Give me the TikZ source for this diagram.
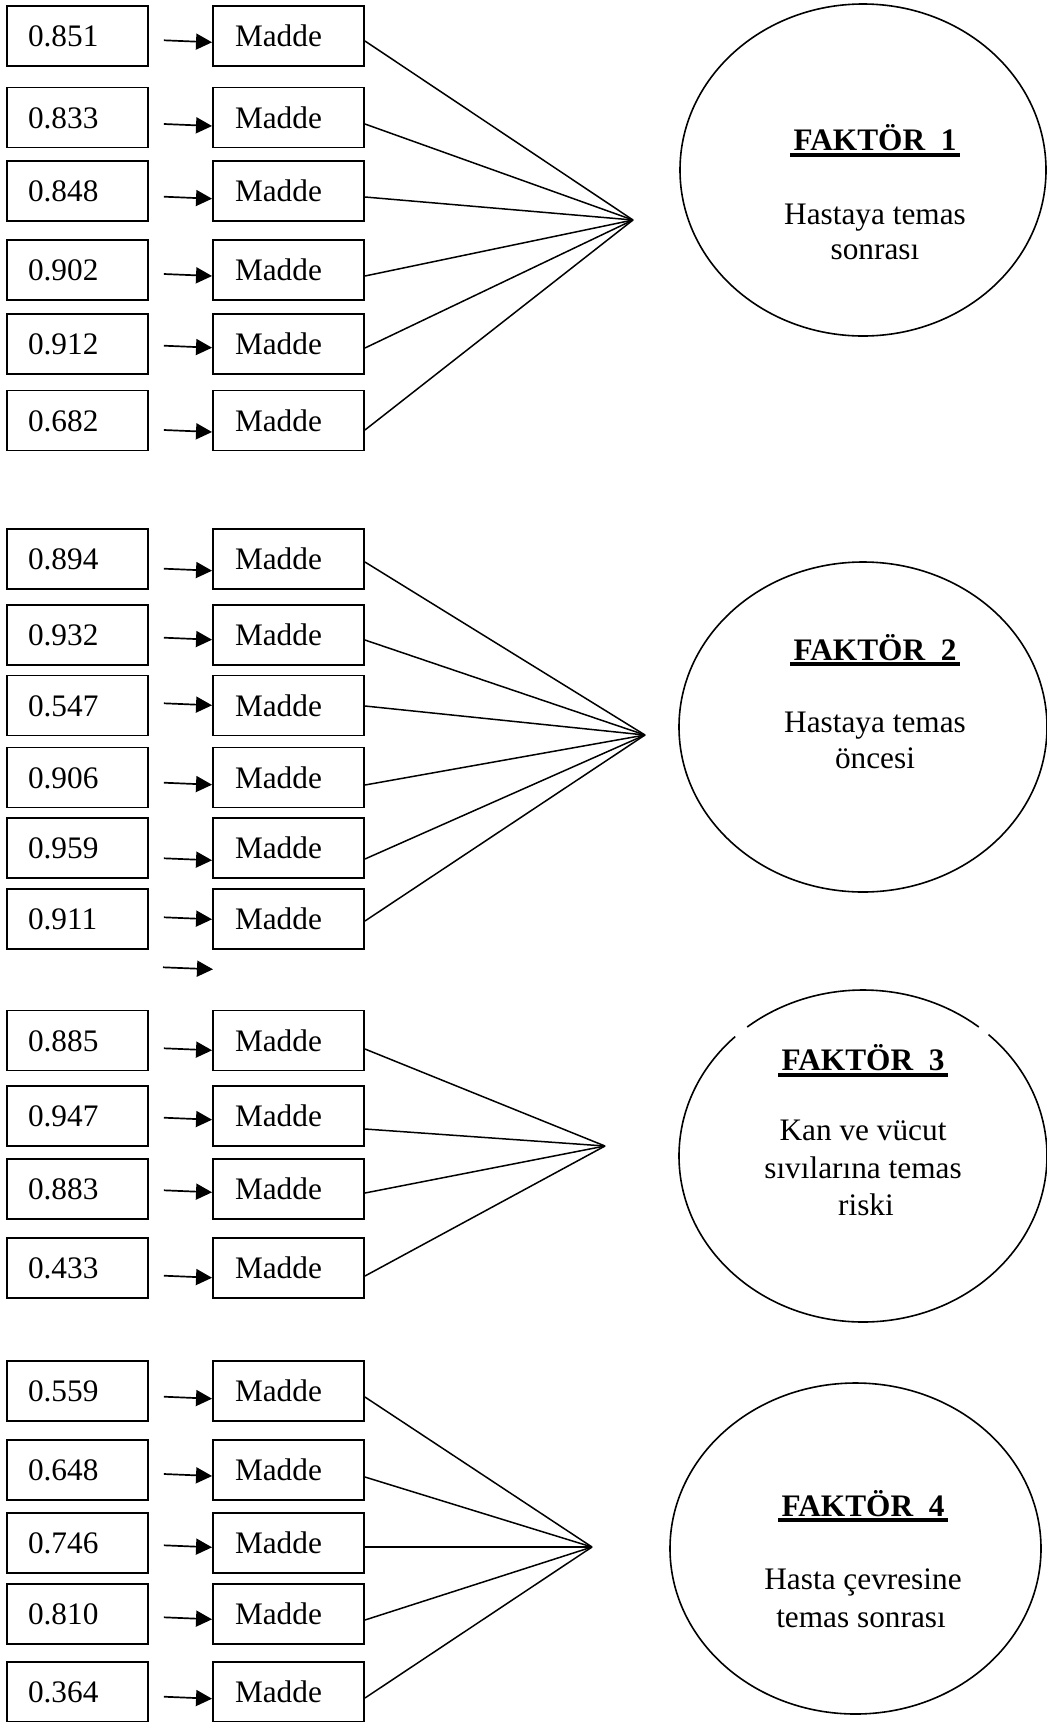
\documentclass[tikz,border=0pt]{standalone}
\usepackage{fontspec}
\setmainfont{Liberation Serif}
\usetikzlibrary{arrows.meta,calc,shapes.geometric}
\tikzset{
  every node/.style={font=\fontsize{31.3}{36}\selectfont},
  valbox/.style={draw, line width=1.9pt, rectangle, minimum height=60pt,
    inner xsep=21pt, inner ysep=0pt, text width=99pt, align=left,
    text height=21pt, text depth=0pt},
  maddebox/.style={draw, line width=1.9pt, rectangle, minimum height=60pt,
    inner xsep=22pt, inner ysep=0pt, text width=107pt, align=left,
    text height=21pt, text depth=0pt},
  arr/.style={line width=1.7pt, -{Triangle[length=16pt,width=16pt]}},
  conn/.style={line width=1.5pt},
  ell/.style={line width=1.6pt},
  factor/.style={ellipse, draw, line width=1.6pt, inner sep=0pt},
  ttl/.style={anchor=base, inner sep=0pt, font=\fontsize{31.3}{36}\selectfont\bfseries},
  etxt/.style={anchor=base, inner sep=0pt},
  uline/.style={line width=4pt}
}
\newcommand\itemrow[6]{%
  \node[valbox] (v#1) at (77.5,#2) {#3};
  \node[maddebox] (m#1) at (288.5,#2) {Madde};
  \draw[arr] ($(v#1.east)+(15,#4)$) -- ($(m#1.west)+(0,#4+2)$);
  \draw[conn] ($(m#1.east)+(0,#5)$) -- (#6);
}
\begin{document}
\begin{tikzpicture}[x=1pt,y=-1pt]
\useasboundingbox (0,0) rectangle (1047,1722);
% convergence points
\coordinate (c1) at (633,220);
\coordinate (c2) at (645,735);
\coordinate (c3) at (605,1146);
\coordinate (c4) at (592,1547);
% group 1
\itemrow{11}{36}{0.851}{4.3}{5}{c1}
\itemrow{12}{117.5}{0.833}{6.5}{6.5}{c1}
\itemrow{13}{191}{0.848}{5.7}{6}{c1}
\itemrow{14}{270}{0.902}{4}{6}{c1}
\itemrow{15}{344}{0.912}{1.7}{4}{c1}
\itemrow{16}{420.5}{0.682}{9.5}{9.5}{c1}
% group 2
\itemrow{21}{559}{0.894}{9.7}{3}{c2}
\itemrow{22}{635}{0.932}{2.7}{5}{c2}
\itemrow{23}{705.5}{0.547}{-2.2}{0.5}{c2}
\itemrow{24}{777.5}{0.906}{5.2}{7.5}{c2}
\itemrow{25}{848}{0.959}{10.3}{11}{c2}
\itemrow{26}{919}{0.911}{-1.7}{2}{c2}
\coordinate (xa) at (163,967.3);
\coordinate (xb) at (213,969.3);
\draw[arr] (xa) -- (xb);
% group 3
\itemrow{31}{1040.5}{0.885}{7.8}{8.5}{c3}
\itemrow{32}{1116}{0.947}{1.7}{13}{c3}
\itemrow{33}{1189}{0.883}{1.3}{4}{c3}
\itemrow{34}{1268}{0.433}{7.7}{8}{c3}
% group 4
\itemrow{41}{1391}{0.559}{5.7}{6}{c4}
\itemrow{42}{1470}{0.648}{4}{7}{c4}
\itemrow{43}{1543}{0.746}{2.3}{4}{c4}
\itemrow{44}{1614}{0.810}{3.3}{6}{c4}
\itemrow{45}{1692}{0.364}{4.7}{6}{c4}
% factor 1
\node[factor, minimum width=366pt, minimum height=332pt] (f1) at (863,170) {};
\node[ttl] (t1) at (875,150.7) {FAKTÖR\ \ 1};
\draw[uline] ($(t1.base west)+(-3,4)$) -- ($(t1.base east)+(3,4)$);
\node[etxt] (e1a) at (875,224) {Hastaya temas};
\node[etxt] (e1b) at (875,259) {sonrası};
% factor 2
\node[factor, minimum width=368pt, minimum height=330pt] (f2) at (863,727) {};
\node[ttl] (t2) at (875,660) {FAKTÖR\ \ 2};
\draw[uline] ($(t2.base west)+(-3,4)$) -- ($(t2.base east)+(3,4)$);
\node[etxt] (e2a) at (875,732.3) {Hastaya temas};
\node[etxt] (e2b) at (875,768.3) {öncesi};
% factor 3 (outline broken near the top)
\draw[ell] (863,1156) ++(-51:184 and 166) arc[start angle=-51, end angle=-129, x radius=184, y radius=166];
\draw[ell] (863,1156) ++(-134:184 and 166) arc[start angle=-134, end angle=-407, x radius=184, y radius=166];
\node[ttl] (t3) at (863,1070.7) {FAKTÖR\ \ 3};
\draw[uline] ($(t3.base west)+(-3,4)$) -- ($(t3.base east)+(3,4)$);
\node[etxt] (e3a) at (863,1140) {Kan ve vücut};
\node[etxt] (e3b) at (863,1178) {sıvılarına temas};
\node[etxt] (e3c) at (866,1215) {riski};
% factor 4
\node[factor, minimum width=371pt, minimum height=331pt] (f4) at (855.5,1548.5) {};
\node[ttl] (t4) at (863,1516) {FAKTÖR\ \ 4};
\draw[uline] ($(t4.base west)+(-3,4)$) -- ($(t4.base east)+(3,4)$);
\node[etxt] (e4a) at (863,1589) {Hasta çevresine};
\node[etxt] (e4b) at (861,1627) {temas sonrası};
\end{tikzpicture}
\end{document}
